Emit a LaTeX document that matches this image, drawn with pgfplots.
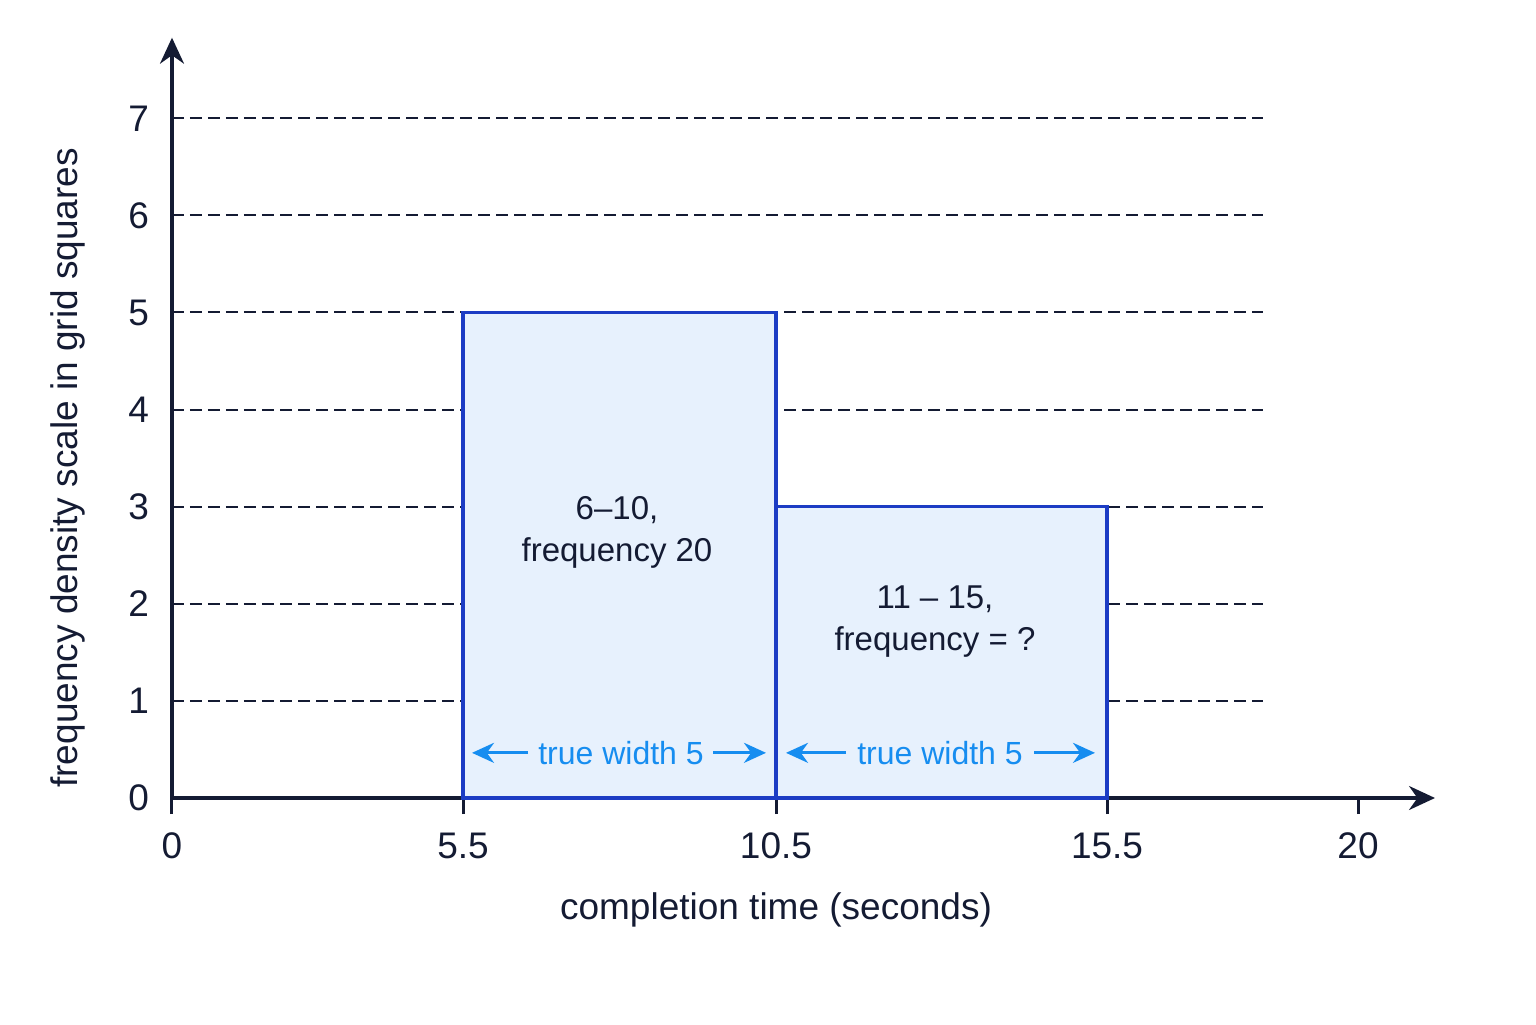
\documentclass[border=0pt]{standalone}
\usepackage{fontspec}
\setmainfont{Liberation Sans}
\usepackage{pgfplots}
\pgfplotsset{compat=1.18}
\usetikzlibrary{arrows.meta}
\definecolor{navy}{HTML}{141B33}
\definecolor{barblue}{HTML}{1C3CC4}
\definecolor{barfill}{HTML}{E7F1FD}
\definecolor{sky}{HTML}{168DF0}
\begin{document}
\begin{tikzpicture}
\useasboundingbox (-86pt,-113pt) rectangle (682pt,399pt);
\begin{axis}[
  at={(0,0)}, anchor=origin,
  x=0.5pt, y=48.55pt,
  xmin=0, xmax=1263, ymin=0, ymax=7.83,
  axis lines=left,
  axis line style={draw=navy, line width=1.6pt},
  x axis line style={-{Stealth[length=13pt,width=12pt]}},
  y axis line style={-{Stealth[length=13pt,width=12pt]}},
  xtick={0,291,604,935,1186},
  xticklabels={0,5.5,10.5,15.5,20},
  ytick={0,1,2,3,4,5,6,7},
  tick align=outside,
  major tick length=8pt,
  xtick style={draw=navy, line width=1.5pt},
  ytick style={draw=none},
  ticklabel style={font=\fontsize{18.5}{22}\selectfont, text=navy},
  xticklabel style={yshift=-6pt},
  yticklabel style={xshift=0pt},
  /pgf/number format/assume math mode=true,
  clip=false,
]
% dashed reference lines
\addplot[navy, line width=1pt, dash pattern=on 6pt off 3pt] coordinates {(0,1) (1091,1)};
\addplot[navy, line width=1pt, dash pattern=on 6pt off 3pt] coordinates {(0,2) (1091,2)};
\addplot[navy, line width=1pt, dash pattern=on 6pt off 3pt] coordinates {(0,3) (1091,3)};
\addplot[navy, line width=1pt, dash pattern=on 6pt off 3pt] coordinates {(0,4) (1091,4)};
\addplot[navy, line width=1pt, dash pattern=on 6pt off 3pt] coordinates {(0,5) (1091,5)};
\addplot[navy, line width=1pt, dash pattern=on 6pt off 3pt] coordinates {(0,6) (1091,6)};
\addplot[navy, line width=1pt, dash pattern=on 6pt off 3pt] coordinates {(0,7) (1091,7)};
% histogram bars
\addplot[ybar interval, fill=barfill, draw=barblue, line width=1.7pt] coordinates {(291,5) (604,3) (935,3)};
% annotations
\node[text=navy, font=\fontsize{16.5}{20}\selectfont, align=center] at (axis cs:445,2.74) {6–10,\\[1pt]frequency 20};
\node[text=navy, font=\fontsize{16.5}{20}\selectfont, align=center] at (axis cs:763,1.82) {11 – 15,\\[1pt]frequency = ?};
\node[text=sky, font=\fontsize{16}{19}\selectfont] at (axis cs:449,0.465) {true width 5};
\node[text=sky, font=\fontsize{16}{19}\selectfont] at (axis cs:768,0.465) {true width 5};
\draw[sky, line width=1.5pt, -{Stealth[length=11pt,width=10pt]}] (axis cs:356,0.465) -- (axis cs:300,0.465);
\draw[sky, line width=1.5pt, -{Stealth[length=11pt,width=10pt]}] (axis cs:541,0.465) -- (axis cs:594,0.465);
\draw[sky, line width=1.5pt, -{Stealth[length=11pt,width=10pt]}] (axis cs:674,0.465) -- (axis cs:614,0.465);
\draw[sky, line width=1.5pt, -{Stealth[length=11pt,width=10pt]}] (axis cs:862,0.465) -- (axis cs:923,0.465);
% axis labels
\node[text=navy, font=\fontsize{18.5}{22}\selectfont] at (axis cs:604,-1.15) {completion time (seconds)};
\node[text=navy, font=\fontsize{18.5}{22}\selectfont, rotate=90] at (axis cs:-104,3.4) {frequency density scale in grid squares};
\end{axis}
\end{tikzpicture}
\end{document}
